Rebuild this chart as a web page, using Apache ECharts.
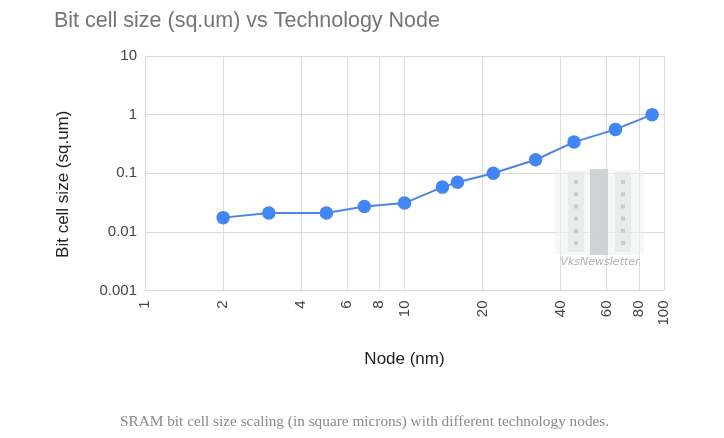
<!DOCTYPE html>
<html>
<head>
<meta charset="utf-8">
<script src="https://cdn.jsdelivr.net/npm/echarts@6/dist/echarts.min.js"></script>
<style>
html,body{margin:0;padding:0;background:#fff;}
#chart{width:724px;height:438px;}
</style>
</head>
<body>
<div id="chart"></div>
<script>
// Data
var nodes = [2, 3, 5, 7, 10, 14, 16, 22, 32, 45, 65, 90];
var cellSize = [0.0175, 0.021, 0.021, 0.027, 0.031, 0.058, 0.07, 0.1, 0.17, 0.34, 0.56, 1.0];
var xTickValues = [1, 2, 4, 6, 8, 10, 20, 40, 60, 80, 100];
var yTickLabels = ['0.001', '0.01', '0.1', '1', '10'];

var titleText = 'Bit cell size (sq.um) vs Technology Node';
var captionText = 'SRAM bit cell size scaling (in square microns) with different technology nodes.';

var chart = echarts.init(document.getElementById('chart'), null, {renderer: 'canvas'});

var seriesData = nodes.map(function (n, i) { return [n, cellSize[i]]; });

var gridColor = '#dcdcdc';
var labelColor = '#444';

var option = {
  backgroundColor: '#fff',
  animation: false,
  title: [{
    text: titleText,
    left: 54,
    top: 10,
    padding: 0,
    textStyle: {fontFamily: 'Liberation Sans, Arial, sans-serif', fontSize: 21.5, fontWeight: 'normal', color: '#757575'}
  }, {
    text: captionText,
    left: 120,
    top: 414,
    padding: 0,
    textStyle: {fontFamily: 'Liberation Serif, DejaVu Serif, serif', fontSize: 15.3, fontWeight: 'normal', color: '#8a8a8a'}
  }],
  grid: {left: 145, right: 60, top: 56, bottom: 147.5, containLabel: false},
  xAxis: {
    type: 'log',
    logBase: 10,
    min: 1,
    max: 100,
    name: 'Node (nm)',
    nameLocation: 'middle',
    nameGap: 60,
    nameTextStyle: {fontFamily: 'Liberation Sans, Arial, sans-serif', fontSize: 17, color: '#222'},
    axisLine: {show: true, lineStyle: {color: gridColor, width: 1}},
    axisTick: {show: false, customValues: xTickValues},
    axisLabel: {
      customValues: xTickValues,
      rotate: 90,
      margin: 10,
      fontFamily: 'Liberation Sans, Arial, sans-serif',
      fontSize: 15,
      color: labelColor,
      formatter: function (v) { return String(Math.round(v)); }
    },
    splitLine: {show: true, lineStyle: {color: gridColor, width: 1}}
  },
  yAxis: {
    type: 'log',
    logBase: 10,
    min: 0.001,
    max: 10,
    name: 'Bit cell size (sq.um)',
    nameLocation: 'middle',
    nameGap: 73,
    nameTextStyle: {fontFamily: 'Liberation Sans, Arial, sans-serif', fontSize: 17, color: '#222', padding: [0, 22, 0, 0]},
    axisLine: {show: true, lineStyle: {color: gridColor, width: 1}},
    axisTick: {show: false},
    axisLabel: {
      margin: 8,
      fontFamily: 'Liberation Sans, Arial, sans-serif',
      fontSize: 15,
      color: labelColor,
      formatter: function (v) {
        var e = Math.round(Math.log10(v));
        return yTickLabels[e + 3];
      }
    },
    splitLine: {show: true, lineStyle: {color: gridColor, width: 1}}
  },
  series: [{
    type: 'line',
    data: seriesData,
    symbol: 'circle',
    symbolSize: 13.5,
    lineStyle: {color: '#4a86e8', width: 2},
    itemStyle: {color: '#4285f4'},
    z: 3
  }],
  graphic: {
    elements: [
      {type: 'rect', z: 100, shape: {x: 555, y: 170, width: 89, height: 85}, style: {fill: 'rgba(238,240,240,0.55)'}},
      {type: 'rect', z: 101, shape: {x: 568, y: 172, width: 16, height: 80}, style: {fill: 'rgba(226,229,229,0.6)'}},
      {type: 'rect', z: 101, shape: {x: 615, y: 172, width: 16, height: 80}, style: {fill: 'rgba(226,229,229,0.6)'}},
      {type: 'rect', z: 101, shape: {x: 590, y: 169, width: 18, height: 86}, style: {fill: 'rgba(200,205,205,0.85)'}},
      {type: 'group', z: 102, children: [0,1,2,3,4,5].map(function (i) {
        return {type: 'rect', z: 102, shape: {x: 574, y: 180 + i * 12.2, width: 4, height: 4}, style: {fill: '#c9cdcd'}};
      })},
      {type: 'group', z: 102, children: [0,1,2,3,4,5].map(function (i) {
        return {type: 'rect', z: 102, shape: {x: 621, y: 180 + i * 12.2, width: 4, height: 4}, style: {fill: '#c9cdcd'}};
      })},
      {type: 'text', z: 103, style: {x: 600, y: 262, text: 'VksNewsletter', textAlign: 'center', textVerticalAlign: 'middle', fill: '#aeb2b2', font: 'italic 11px "DejaVu Sans", sans-serif'}}
    ]
  }
};

chart.setOption(option);
</script>
</body>
</html>
